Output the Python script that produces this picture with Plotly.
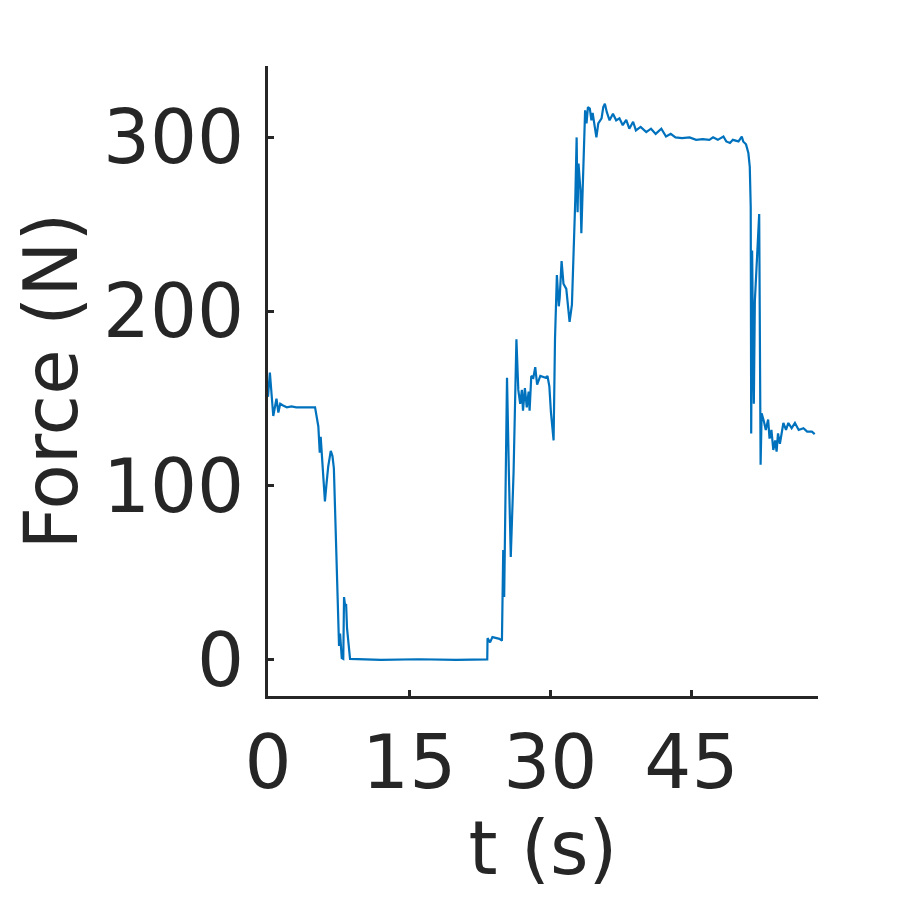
import plotly.graph_objects as go

# ---------------- data ----------------
t = [0.0, 0.2, 0.56, 0.9, 1.1, 1.3, 1.6, 2.0, 2.5, 3.0, 4.0, 5.0,
     5.35, 5.5, 5.6, 5.9, 6.05, 6.2, 6.4, 6.67, 6.85, 7.0, 7.3, 7.4,
     7.55, 7.66, 7.84, 8.0, 8.08, 8.2, 8.3, 8.4, 8.72, 12.0, 16.0, 20.0,
     23.3, 23.33, 23.6, 23.85, 24.6, 24.86, 25.0, 25.1, 25.4, 25.6, 25.8,
     26.1, 26.4, 26.6, 26.8, 26.98, 27.1, 27.3, 27.5, 27.7, 27.8, 27.98,
     28.2, 28.4, 28.6, 28.94, 29.5, 29.7, 29.9, 30.07, 30.35, 30.5, 30.7,
     30.9, 31.0, 31.2, 31.4, 31.7, 31.8, 32.05, 32.3, 32.5, 32.66, 32.8,
     32.9, 33.0, 33.2, 33.3, 33.5, 33.6,
     33.7, 33.85, 34.0, 34.2, 34.37, 34.5, 34.75, 34.9, 35.1, 35.45,
     35.63, 35.8, 36.0, 36.3, 36.66, 37.0, 37.35, 37.7, 38.07, 38.4,
     38.8, 39.1, 39.6, 40.2, 40.7, 41.2, 41.8, 42.3, 42.8, 43.3,
     44.0, 44.8, 45.5, 46.2, 46.9, 47.3, 47.8, 48.4, 48.7, 49.1,
     49.4, 50.0, 50.35, 50.5, 50.8, 51.05,
     51.2, 51.3, 51.35, 51.45, 51.56, 51.63, 51.74, 51.98, 52.2, 52.35,
     52.46, 52.7, 52.9, 53.15, 53.3, 53.5, 53.7, 53.9, 54.05, 54.2,
     54.4, 54.77, 55.05, 55.3, 55.65, 56.0, 56.4, 56.9, 57.3, 57.8,
     58.1]
force = [151, 165, 140, 150, 142, 147, 146, 145, 145.5, 145, 145, 145,
         134, 119, 128, 101, 91, 100, 111, 120, 117, 110, 55, 44,
         8, 15, 1, 0.5, 36, 31, 32, 18, 0.5, 0, 0.3, 0,
         0.2, 12.4, 10, 13, 12, 11, 63, 36, 162, 107, 59,
         108, 184, 155, 147, 155, 143, 156, 145, 154, 143, 163,
         162, 168, 158, 163, 162, 163, 157, 142, 126, 184, 221,
         203, 208, 229, 216, 213, 207, 194, 204, 235, 265, 300,
         257, 285, 270, 245, 289, 300,
         315.5, 308, 317.4, 316.5, 309.8, 314, 306, 300, 308, 311,
         317.4, 319.3, 314.6, 309.8, 313.6, 309.8, 311, 307, 310, 305,
         309, 304, 306, 303, 305, 302, 305, 300.5, 302, 300,
         299.6, 300, 298.6, 299, 298.6, 300, 298.6, 300.5, 297.7, 296.8,
         298.6, 297.7, 300.5, 297.7, 296, 291,
         283, 260, 130, 235, 174, 147, 206, 231, 256, 112,
         141.5, 137, 132, 138, 127, 132, 120.5, 126, 119.5, 130,
         124, 136, 132, 136, 133, 136, 132, 133, 131, 131,
         129.6]

x_ticks = [0, 15, 30, 45]
y_ticks = [0, 100, 200, 300]

INK = "#262626"
FONT = "DejaVu Sans"

fig = go.Figure()
fig.add_trace(go.Scatter(x=t, y=force, mode="lines",
                         line=dict(color="#0072BD", width=2.2)))

# the page adds an 8 px body margin, so the margins are trimmed by 8
fig.update_layout(
    width=900, height=900,
    margin=dict(l=260, r=90, t=58, b=212),
    paper_bgcolor="white", plot_bgcolor="white",
    showlegend=False,
    font=dict(family=FONT, size=74, color=INK),
)
fig.update_xaxes(
    range=[0, 58.45], tickvals=x_ticks, automargin=False,
    showgrid=False, zeroline=False,
    showline=True, linecolor=INK, linewidth=3,
    ticks="inside", ticklen=6, tickwidth=3, tickcolor=INK,
    tickfont=dict(size=74, color=INK),
    title=dict(text="t (s)", font=dict(size=74, color=INK), standoff=4),
)
fig.update_yaxes(
    range=[-20.8, 341], tickvals=y_ticks, automargin=False,
    showgrid=False, zeroline=False,
    showline=True, linecolor=INK, linewidth=3,
    ticks="inside", ticklen=6, tickwidth=3, tickcolor=INK,
    tickfont=dict(size=74, color=INK), ticklabelstandoff=6,
    title=dict(text="Force (N)", font=dict(size=74, color=INK), standoff=18),
)

fig.write_html("out.html")
